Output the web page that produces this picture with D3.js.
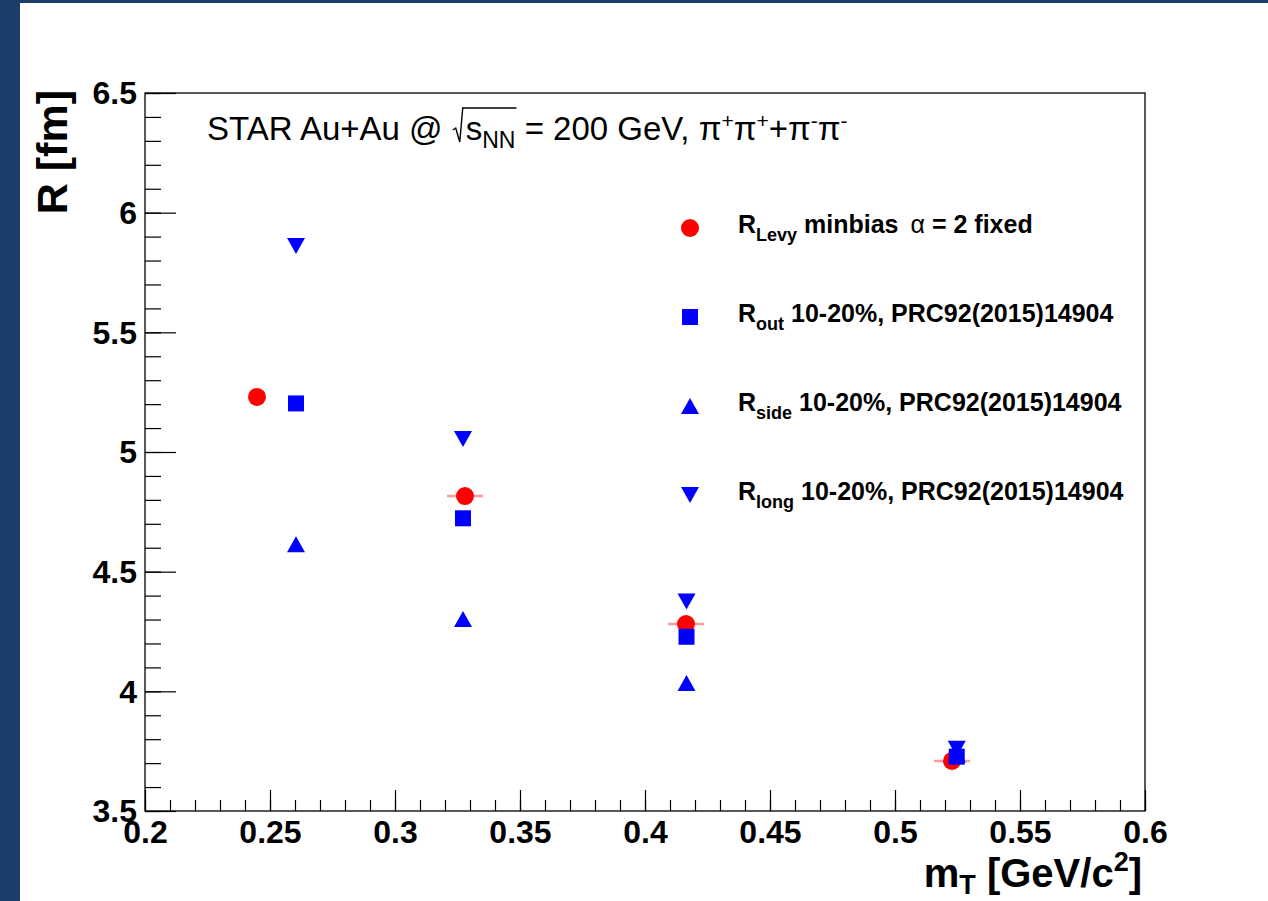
<!DOCTYPE html>
<html>
<head>
<meta charset="utf-8">
<script src="https://cdn.jsdelivr.net/npm/d3@7"></script>
<style>
  html, body { margin: 0; padding: 0; background: #fff; }
  svg { display: block; }
  text { font-family: "Liberation Sans", Arial, Helvetica, sans-serif; }
</style>
</head>
<body>
<div id="chart"></div>
<script>
// R_Levy (minbias, alpha = 2 fixed)
const mtLevy = [0.2448, 0.3280, 0.4164, 0.5228];
const rLevy = [5.230, 4.816, 4.281, 3.709];
const mtLevyErr = [0.0, 0.0072, 0.0072, 0.0072];

// HBT radii 10-20%, PRC92(2015)14904
const mtHbt = [0.2604, 0.3272, 0.4166, 0.5247];
const rOut = [5.203, 4.723, 4.228, 3.727];
const rSide = [4.615, 4.302, 4.035, 3.735];
const rLong = [5.861, 5.054, 4.375, 3.760];

const xTicks = [0.2, 0.25, 0.3, 0.35, 0.4, 0.45, 0.5, 0.55, 0.6];
const yTicks = [3.5, 4, 4.5, 5, 5.5, 6, 6.5];

const width = 1268, height = 901;
const frame = { left: 145, right: 1145, top: 93, bottom: 811 };

const svg = d3.select("#chart").append("svg")
    .attr("width", width)
    .attr("height", height);

// canvas border (dark blue strips)
svg.append("rect").attr("x", 0).attr("y", 0).attr("width", width).attr("height", 3).attr("fill", "#1b3f6a");
svg.append("rect").attr("x", 0).attr("y", 0).attr("width", 20).attr("height", height).attr("fill", "#1b3f6a");

const x = d3.scaleLinear().domain([0.2, 0.6]).range([frame.left, frame.right]);
const y = d3.scaleLinear().domain([3.5, 6.5]).range([frame.bottom, frame.top]);

// minor ticks
const xMinor = d3.range(0, 41).map(i => +(0.2 + i * 0.01).toFixed(3));
const yMinor = d3.range(0, 31).map(i => +(3.5 + i * 0.1).toFixed(3));

// X axis
const gx = svg.append("g").attr("transform", `translate(0,${frame.bottom})`);
gx.call(d3.axisBottom(x).tickValues(xMinor).tickSize(-11).tickFormat(""));
gx.append("g").call(d3.axisBottom(x).tickValues(xTicks).tickSize(-21).tickPadding(9).tickFormat(d => String(d)));
gx.selectAll(".domain").remove();
gx.selectAll("line").attr("stroke", "#000").attr("stroke-width", 1.2);
gx.selectAll("text")
    .attr("fill", "#000")
    .style("font-size", "32px")
    .style("font-weight", "bold");

// Y axis
const gy = svg.append("g").attr("transform", `translate(${frame.left},0)`);
gy.call(d3.axisLeft(y).tickValues(yMinor).tickSize(-16).tickFormat(""));
gy.append("g").call(d3.axisLeft(y).tickValues(yTicks).tickSize(-31).tickPadding(8).tickFormat(d => String(d)));
gy.selectAll(".domain").remove();
gy.selectAll("line").attr("stroke", "#000").attr("stroke-width", 1.2);
gy.selectAll("text")
    .attr("fill", "#000")
    .attr("dy", "0.34em")
    .style("font-size", "32px")
    .style("font-weight", "bold");

// frame
svg.append("rect")
    .attr("x", frame.left).attr("y", frame.top)
    .attr("width", frame.right - frame.left)
    .attr("height", frame.bottom - frame.top)
    .attr("fill", "none")
    .attr("stroke", "#000")
    .attr("stroke-width", 1.3);

// axis titles
const xTitle = svg.append("text")
    .attr("x", frame.right - 3).attr("y", 887)
    .attr("text-anchor", "end")
    .style("font-size", "40px").style("font-weight", "bold");
xTitle.append("tspan").text("m");
xTitle.append("tspan").attr("dy", 7).style("font-size", "27px").text("T");
xTitle.append("tspan").attr("dy", -7).text(" [GeV/c");
xTitle.append("tspan").attr("dy", -16).style("font-size", "27px").text("2");
xTitle.append("tspan").attr("dy", 16).text("]");

svg.append("text")
    .attr("transform", `translate(67,${frame.top - 3}) rotate(-90)`)
    .attr("text-anchor", "end")
    .style("font-size", "43px").style("font-weight", "bold")
    .text("R [fm]");

// plot title
const titleY = 140;
const title = svg.append("text")
    .attr("x", 207).attr("y", titleY)
    .style("font-size", "33px");
title.append("tspan").text("STAR Au+Au @ ");
const sSpan = title.append("tspan").attr("dx", 14).text("s");
const nnSpan = title.append("tspan").attr("dy", 8).style("font-size", "23px").text("NN");
title.append("tspan").attr("dy", -8).text(" = 200 GeV, \u03c0");
title.append("tspan").attr("dy", -12).style("font-size", "21px").text("+");
title.append("tspan").attr("dy", 12).text("\u03c0");
title.append("tspan").attr("dy", -12).style("font-size", "21px").text("+");
title.append("tspan").attr("dy", 12).text("+\u03c0");
title.append("tspan").attr("dy", -12).style("font-size", "21px").text("-");
title.append("tspan").attr("dy", 12).text("\u03c0");
title.append("tspan").attr("dy", -12).style("font-size", "21px").text("-");

// radical sign over s_NN
const sBox = sSpan.node().getBBox();
const nnBox = nnSpan.node().getBBox();
const sx = sBox.x, over = titleY - 32, nnEnd = nnBox.x + nnBox.width + 1;
svg.append("path")
    .attr("d", `M${sx - 13},${titleY - 10} L${sx - 10},${titleY - 12} L${sx - 6},${titleY + 2} L${sx - 3},${over} L${nnEnd},${over}`)
    .attr("fill", "none")
    .attr("stroke", "#000")
    .attr("stroke-width", 1.4);

// markers
const triUp = "M0,-8 L9,8 L-9,8 Z";
const triDown = "M0,8 L9,-8 L-9,-8 Z";
const blue = "#0000ff", red = "#ff0000";

const levy = mtLevy.map((m, i) => ({ x: m, y: rLevy[i], ex: mtLevyErr[i] }));

// x error bars of R_Levy
svg.append("g").selectAll("line")
    .data(levy.filter(d => d.ex > 0))
    .enter()
    .append("line")
    .attr("x1", d => x(d.x - d.ex))
    .attr("x2", d => x(d.x + d.ex))
    .attr("y1", d => y(d.y))
    .attr("y2", d => y(d.y))
    .attr("stroke", "#ff9a9a")
    .attr("stroke-width", 2.5);

svg.append("g").selectAll("circle")
    .data(levy)
    .enter()
    .append("circle")
    .attr("cx", d => x(d.x))
    .attr("cy", d => y(d.y))
    .attr("r", 9)
    .attr("fill", red);

svg.append("g").selectAll("rect")
    .data(mtHbt.map((m, i) => ({ x: m, y: rOut[i] })))
    .enter()
    .append("rect")
    .attr("x", d => x(d.x) - 8)
    .attr("y", d => y(d.y) - 8)
    .attr("width", 16)
    .attr("height", 16)
    .attr("fill", blue);

svg.append("g").selectAll("path")
    .data(mtHbt.map((m, i) => ({ x: m, y: rSide[i] })))
    .enter()
    .append("path")
    .attr("d", triUp)
    .attr("transform", d => `translate(${x(d.x)},${y(d.y)})`)
    .attr("fill", blue);

svg.append("g").selectAll("path")
    .data(mtHbt.map((m, i) => ({ x: m, y: rLong[i] })))
    .enter()
    .append("path")
    .attr("d", triDown)
    .attr("transform", d => `translate(${x(d.x)},${y(d.y)})`)
    .attr("fill", blue);

// legend
const legendItems = [
    { name: "Levy", note: " minbias", extra: true, kind: "circle" },
    { name: "out", note: " 10-20%, PRC92(2015)14904", kind: "square" },
    { name: "side", note: " 10-20%, PRC92(2015)14904", kind: "up" },
    { name: "long", note: " 10-20%, PRC92(2015)14904", kind: "down" }
];
const legendX = 690, legendTop = 228, legendStep = 89, textX = 738;

const leg = svg.append("g");
legendItems.forEach((item, i) => {
    const cy = legendTop + i * legendStep;
    if (item.kind === "circle") {
        leg.append("circle").attr("cx", legendX).attr("cy", cy).attr("r", 9).attr("fill", red);
    } else if (item.kind === "square") {
        leg.append("rect").attr("x", legendX - 8).attr("y", cy - 8).attr("width", 16).attr("height", 16).attr("fill", blue);
    } else {
        leg.append("path").attr("d", item.kind === "up" ? triUp : triDown)
            .attr("transform", `translate(${legendX},${cy})`).attr("fill", blue);
    }
    const t = leg.append("text")
        .attr("x", textX).attr("y", cy + 5)
        .style("font-size", "25px").style("font-weight", "bold");
    t.append("tspan").text("R");
    t.append("tspan").attr("dy", 8).style("font-size", "18px").text(item.name);
    t.append("tspan").attr("dy", -8).text(item.note);
    if (item.extra) {
        t.append("tspan").attr("dx", 12).style("font-weight", "normal").text("\u03b1");
        t.append("tspan").text(" = 2 fixed");
    }
});
</script>
</body>
</html>
